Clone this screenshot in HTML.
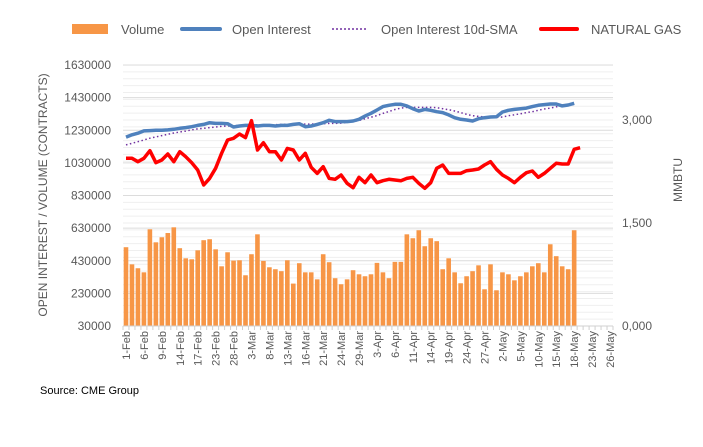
<!DOCTYPE html>
<html><head><meta charset="utf-8"><style>
body{margin:0;background:#fff;width:703px;height:442px;overflow:hidden;font-family:"Liberation Sans",sans-serif}
svg text{font-family:"Liberation Sans",sans-serif;fill:#595959}
</style></head><body>
<svg id="chart" width="703" height="442" xmlns="http://www.w3.org/2000/svg">
<g id="grid"></g>
<g id="bars"></g>
<g id="lines"></g>
<g id="axes"></g>
<g font-size="13">
  <rect x="72" y="24" width="36" height="10" fill="#f79646"/>
  <text x="121" y="34">Volume</text>
  <line x1="182" y1="29" x2="220" y2="29" stroke="#4f81bd" stroke-width="4" stroke-linecap="round"/>
  <text x="232" y="34">Open Interest</text>
  <line x1="332" y1="29" x2="366" y2="29" stroke="#7030a0" stroke-width="1.5" stroke-dasharray="2,2"/>
  <text x="381" y="34">Open Interest 10d-SMA</text>
  <line x1="541" y1="29" x2="577" y2="29" stroke="#ff0000" stroke-width="4" stroke-linecap="round"/>
  <text x="591" y="34">NATURAL GAS</text>
</g>
<text transform="translate(47,195) rotate(-90)" text-anchor="middle" font-size="12">OPEN INTEREST / VOLUME (CONTRACTS)</text>
<text transform="translate(682,180) rotate(-90)" text-anchor="middle" font-size="12">MMBTU</text>
<text x="40" y="394" font-size="11" style="fill:#000">Source: CME Group</text>
</svg>
<script>
const labels=["1-Feb","6-Feb","9-Feb","14-Feb","17-Feb","23-Feb","28-Feb","3-Mar","8-Mar","13-Mar","16-Mar","21-Mar","24-Mar","29-Mar","3-Apr","6-Apr","11-Apr","14-Apr","19-Apr","24-Apr","27-Apr","2-May","5-May","10-May","15-May","18-May","23-May","26-May"];
const leftTicks=[30000,230000,430000,630000,830000,1030000,1230000,1430000,1630000];
const rightTicks=[0,1500,3000];
const rightTickLabels=["0,000","1,500","3,000"];
const volume=[513,408,384,359,623,543,574,600,635,507,445,439,494,556,562,500,396,482,431,433,341,470,592,429,390,378,366,433,290,415,359,359,316,470,421,323,286,316,372,347,335,347,417,359,323,423,423,592,568,617,519,568,550,378,445,359,292,335,366,402,255,408,249,359,347,310,335,359,396,415,359,531,458,396,378,617];
const openInterest=[1188,1202,1212,1226,1228,1230,1230,1232,1236,1242,1246,1252,1260,1266,1276,1272,1272,1270,1250,1256,1260,1260,1256,1260,1260,1256,1260,1260,1266,1270,1252,1256,1266,1276,1291,1283,1283,1283,1287,1297,1317,1334,1354,1375,1383,1389,1389,1379,1362,1348,1358,1352,1344,1338,1324,1307,1297,1293,1287,1301,1307,1311,1313,1342,1352,1358,1362,1366,1375,1383,1387,1391,1391,1379,1385,1395];
const oiSma=[1140,1150,1160,1170,1181,1189,1197,1205,1213,1219,1225,1232,1238,1242,1246,1250,1254,1256,1258,1260,1262,1262,1264,1264,1264,1264,1266,1266,1266,1266,1268,1268,1270,1270,1272,1272,1274,1278,1284,1290,1300,1310,1320,1333,1345,1357,1366,1370,1370,1370,1370,1370,1368,1362,1356,1348,1338,1328,1319,1315,1311,1309,1309,1311,1319,1325,1331,1338,1344,1352,1360,1366,1374,1380,1384,1388];
const naturalGas=[2442,2442,2393,2442,2553,2378,2417,2505,2393,2539,2466,2378,2272,2053,2150,2296,2515,2709,2733,2796,2743,2990,2563,2670,2539,2539,2417,2587,2563,2417,2515,2311,2223,2320,2150,2136,2199,2078,2014,2165,2087,2199,2087,2116,2136,2126,2116,2150,2165,2078,2005,2087,2296,2345,2223,2223,2223,2262,2272,2286,2345,2393,2282,2199,2150,2087,2165,2233,2257,2165,2223,2296,2369,2359,2359,2573,2597];
const NS="http://www.w3.org/2000/svg";
const plotL=123,plotR=613,nCat=82,yTop=65,yBot=326;
const slot=(plotR-plotL)/nCat;
const xC=i=>plotL+(i+0.5)*slot;
const yL=v=>yBot-(v-30000)/1600000*(yBot-yTop);
const yR=v=>yBot-v/3000*206;
function mk(tag,attrs,parent){const e=document.createElementNS(NS,tag);for(const k in attrs)e.setAttribute(k,attrs[k]);parent.appendChild(e);return e;}
const grid=document.getElementById('grid'),bars=document.getElementById('bars'),lines=document.getElementById('lines'),axes=document.getElementById('axes');
for(let v=100;v<=3800;v+=100){const y=yR(v);if(y<yTop-1)break;const l=mk('line',{x1:plotL,x2:plotR,y1:y,y2:y,stroke:'#efefef','stroke-width':1},grid);

}
leftTicks.forEach((v,i)=>{const y=yL(v);const l=mk('line',{x1:plotL,x2:plotR,y1:y,y2:y,stroke:'#dcdcdc','stroke-width':1},grid);


const t=mk('text',{x:111,y:y+4,'text-anchor':'end','font-size':12},axes);t.textContent=v;

});
rightTicks.forEach((v,i)=>{const t=mk('text',{x:622,y:yR(v)+4,'font-size':12},axes);t.textContent=rightTickLabels[i];

});
volume.forEach((v,i)=>{const y=yL(v*1000);const r=mk('rect',{x:xC(i)-2.3,y:y,width:4.6,height:yBot-y,fill:'#f79646'},bars);

});
const ax=mk('line',{x1:plotL,x2:plotR,y1:yBot,y2:yBot,stroke:'#d0d0d0'},axes);


for(let i=0;i<=nCat;i++){const x=plotL+i*slot;const tk=mk('line',{x1:x,x2:x,y1:yBot,y2:yBot+4,stroke:'#d0d0d0'},axes);

}
labels.forEach((s,k)=>{const x=xC(k*3)+4;const t=mk('text',{transform:`translate(${x},331) rotate(-90)`,'text-anchor':'end','font-size':11},axes);t.textContent=s;

});
function path(arr,fy,scale){return arr.map((v,i)=>(i?'L':'M')+xC(i).toFixed(1)+','+fy(v*scale).toFixed(1)).join(' ');}
const p1=mk('path',{d:path(oiSma,yL,1000),fill:'none',stroke:'#7030a0','stroke-width':1.5,'stroke-dasharray':'1.5,2.5'},lines);


const p2=mk('path',{d:path(openInterest,yL,1000),fill:'none',stroke:'#4f81bd','stroke-width':3.5,'stroke-linejoin':'round'},lines);


const p3=mk('path',{d:path(naturalGas,yR,1),fill:'none',stroke:'#ff0000','stroke-width':3.5,'stroke-linejoin':'round'},lines);


</script>
</body></html>
